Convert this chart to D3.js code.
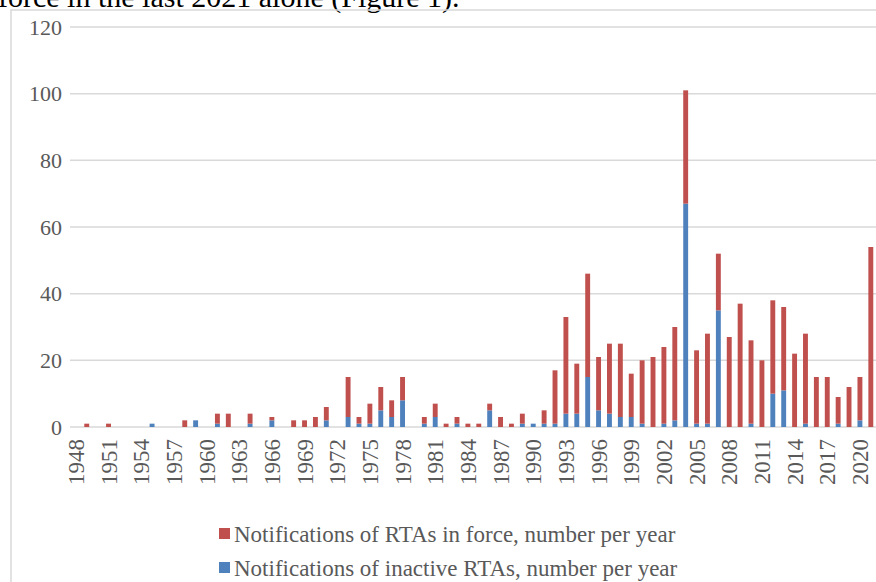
<!DOCTYPE html>
<html lang="en">
  <head>
    <meta charset="UTF-8" />
    <title>RTA notifications</title>
    <script src="https://d3js.org/d3.v7.min.js"></script>
    <style>
      body { margin: 0; background: #fff; }
      svg { display: block; font-family: "Liberation Serif", "Times New Roman", serif; }
    </style>
  </head>
  <body>
    <div id="chart"></div>
    <script>
      // years 1948..2021
      const years = d3.range(1948, 2022);
      const inForce = [
        0, 1, 0, 1, 0, 0, 0, 0, 0, 0,
        2, 0, 0, 3, 4, 0, 3, 0, 1, 0,
        2, 2, 3, 4, 0, 12, 2, 6, 7, 5,
        7, 0, 2, 4, 1, 2, 1, 1, 2, 3,
        1, 3, 0, 4, 16, 29, 15, 31, 16, 21,
        22, 13, 19, 21, 23, 28, 34, 22, 27, 17,
        27, 37, 25, 20, 28, 25, 22, 27, 15, 15,
        8, 12, 13, 54
      ];
      const inactive = [
        0, 0, 0, 0, 0, 0, 0, 1, 0, 0,
        0, 2, 0, 1, 0, 0, 1, 0, 2, 0,
        0, 0, 0, 2, 0, 3, 1, 1, 5, 3,
        8, 0, 1, 3, 0, 1, 0, 0, 5, 0,
        0, 1, 1, 1, 1, 4, 4, 15, 5, 4,
        3, 3, 1, 0, 1, 2, 67, 1, 1, 35,
        0, 0, 1, 0, 10, 11, 0, 1, 0, 0,
        1, 0, 2, 0
      ];
      const yTicks = [0, 20, 40, 60, 80, 100, 120];
      const xTickYears = years.filter((y) => (y - 1948) % 3 === 0);
      const legendLabels = [
        "Notifications of RTAs in force, number per year",
        "Notifications of inactive RTAs, number per year"
      ];

      const W = 876, H = 582;
      const colors = { inactive: "#4F81BD", inForce: "#C0504D" };

      const svg = d3.select("#chart").append("svg")
        .attr("width", W).attr("height", H);

      // text of the document above the chart, cut by the crop
      svg.append("text")
        .attr("x", -2).attr("y", 7)
        .attr("font-size", 30)
        .attr("fill", "#000")
        .text("force in the last 2021 alone (Figure 1).");

      // chart area frame
      svg.append("rect")
        .attr("x", 11).attr("y", 10)
        .attr("width", W + 20).attr("height", H + 20)
        .attr("fill", "none")
        .attr("stroke", "#D9D9D9")
        .attr("stroke-width", 1.5);

      const x = d3.scaleBand()
        .domain(years)
        .range([70.4, 70.4 + 74 * 10.89])
        .paddingInner(0.55)
        .paddingOuter(0.275);

      const y = d3.scaleLinear().domain([0, 120]).range([427, 27]);

      // gridlines
      svg.append("g")
        .selectAll("line")
        .data(yTicks)
        .join("line")
        .attr("x1", 70).attr("x2", W)
        .attr("y1", (d) => y(d)).attr("y2", (d) => y(d))
        .attr("stroke", "#D9D9D9")
        .attr("stroke-width", 1.5);

      // y labels
      svg.append("g")
        .selectAll("text")
        .data(yTicks)
        .join("text")
        .attr("x", 62)
        .attr("y", (d) => y(d))
        .attr("dy", "0.35em")
        .attr("text-anchor", "end")
        .attr("font-size", 22)
        .attr("fill", "#595959")
        .text((d) => d);

      // stacked bars
      const rows = years.map((yr, i) => ({ year: yr, inactive: inactive[i], inForce: inForce[i] }));
      const series = d3.stack().keys(["inactive", "inForce"])(rows);

      svg.append("g")
        .selectAll("g")
        .data(series)
        .join("g")
        .attr("fill", (s) => colors[s.key])
        .selectAll("rect")
        .data((s) => s.filter((d) => d[1] > d[0]))
        .join("rect")
        .attr("x", (d) => x(d.data.year))
        .attr("width", x.bandwidth())
        .attr("y", (d) => y(d[1]))
        .attr("height", (d) => y(d[0]) - y(d[1]));

      // x labels, rotated
      svg.append("g")
        .selectAll("text")
        .data(xTickYears)
        .join("text")
        .attr("transform", (d) =>
          "translate(" + (x(d) + x.bandwidth() / 2) + ",439) rotate(-90)")
        .attr("dy", "0.35em")
        .attr("text-anchor", "end")
        .attr("font-size", 23)
        .attr("fill", "#595959")
        .text((d) => d);

      // legend
      const legend = svg.append("g")
        .selectAll("g")
        .data([
          { label: legendLabels[0], color: colors.inForce },
          { label: legendLabels[1], color: colors.inactive }
        ])
        .join("g")
        .attr("transform", (d, i) => "translate(219," + (534 + i * 34) + ")");

      legend.append("rect")
        .attr("x", 0).attr("y", -6)
        .attr("width", 11).attr("height", 11)
        .attr("fill", (d) => d.color);

      legend.append("text")
        .attr("x", 15)
        .attr("y", 0)
        .attr("dy", "0.35em")
        .attr("font-size", 23)
        .attr("fill", "#595959")
        .text((d) => d.label);
    </script>
  </body>
</html>
